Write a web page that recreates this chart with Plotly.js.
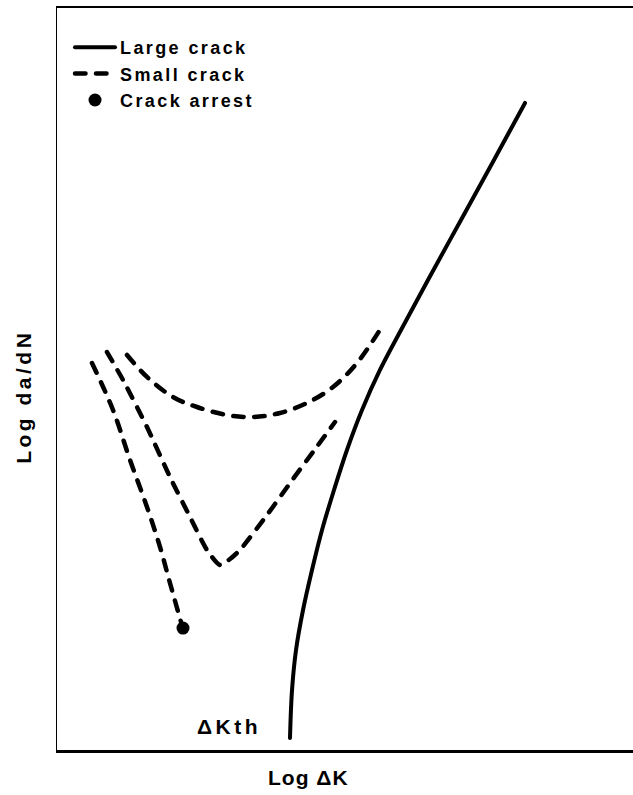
<!DOCTYPE html>
<html>
<head>
<meta charset="utf-8">
<script src="https://cdn.plot.ly/plotly-3.0.1.min.js"></script>
<style>
  html, body { margin: 0; padding: 0; background: #fff; }
  #chart { width: 633px; height: 795px; }
  .scatterlayer .js-line, .legend .js-line { stroke-linecap: round; stroke-linejoin: round; }
  .legendtext { letter-spacing: 2.4px; }
  g.annotation[data-index="0"] text { letter-spacing: 3.5px; }
  g.annotation[data-index="1"] text { letter-spacing: 1px; }
  g.annotation[data-index="2"] text { letter-spacing: 3.5px; }
</style>
</head>
<body>
<div id="chart"></div>
<script>
// Values (arbitrary log units)
const largeCrackLogK    = [40.76, 41.11, 41.80, 43.01, 44.56, 46.29, 48.36, 50.60, 53.20, 56.30, 59.93, 64.59, 70.29, 75.99, 81.35];
const largeCrackLogDadN = [1.36, 7.88, 13.32, 18.75, 24.18, 29.62, 35.05, 40.49, 45.92, 51.36, 56.79, 63.59, 71.74, 79.89, 87.64];

const smallCrackA_LogK    = [6.56, 10.19, 13.13, 16.06, 18.31, 20.03, 21.93];
const smallCrackA_LogDadN = [52.31, 45.92, 39.13, 32.74, 27.31, 22.42, 17.12];

const smallCrackB_LogK    = [9.15, 11.92, 16.06, 20.03, 23.49, 26.42, 28.67, 30.40, 32.12, 36.79, 41.28, 44.73, 48.53];
const smallCrackB_LogDadN = [53.80, 50.00, 43.61, 36.82, 31.39, 26.90, 24.86, 25.68, 26.90, 31.66, 36.55, 40.22, 44.29];

const smallCrackC_LogK    = [12.61, 16.06, 20.55, 24.70, 29.88, 34.37, 39.03, 43.70, 48.19, 52.33, 56.82];
const smallCrackC_LogDadN = [53.40, 50.41, 47.69, 46.33, 45.24, 44.97, 45.52, 46.88, 49.05, 52.31, 57.47];

const arrestLogK    = [22.28];
const arrestLogDadN = [16.30];

const seriesNames = ["Large crack", "Small crack", "Crack arrest"];
const thresholdLabel = "ΔKth";
const xTitle = "Log ΔK";
const yTitle = "Log da/dN";

const dashStyle = "10.5px,10.5px";
const font = "Liberation Sans, Arial, sans-serif";

const traces = [
  { x: largeCrackLogK, y: largeCrackLogDadN, name: seriesNames[0], mode: "lines",
    line: { color: "#000", width: 4, shape: "spline", smoothing: 1 },
    legendgroup: "large", showlegend: true },
  { x: smallCrackA_LogK, y: smallCrackA_LogDadN, name: seriesNames[1], mode: "lines",
    line: { color: "#000", width: 4.5, dash: dashStyle, shape: "spline", smoothing: 1 },
    legendgroup: "small", showlegend: true },
  { x: smallCrackB_LogK, y: smallCrackB_LogDadN, name: seriesNames[1], mode: "lines",
    line: { color: "#000", width: 4.5, dash: dashStyle, shape: "spline", smoothing: 0.6 },
    legendgroup: "small", showlegend: false },
  { x: smallCrackC_LogK, y: smallCrackC_LogDadN, name: seriesNames[1], mode: "lines",
    line: { color: "#000", width: 4.5, dash: dashStyle, shape: "spline", smoothing: 1 },
    legendgroup: "small", showlegend: false },
  { x: arrestLogK, y: arrestLogDadN, name: seriesNames[2], mode: "markers",
    marker: { color: "#000", size: 13 },
    legendgroup: "arrest", showlegend: true }
];

const layout = {
  width: 633, height: 795,
  margin: { l: 57, r: 0, t: 8, b: 45 },
  paper_bgcolor: "#fff", plot_bgcolor: "#fff",
  showlegend: true,
  legend: {
    x: 0.0226, y: 0.9717, xanchor: "left", yanchor: "top",
    bgcolor: "rgba(0,0,0,0)", borderwidth: 0,
    font: { family: font, size: 18, color: "#000", weight: "bold" },
    tracegroupgap: 0, itemwidth: 40
  },
  xaxis: {
    range: [0.518, 100], showline: true, mirror: true, linecolor: "#000", linewidth: 2.5,
    showgrid: false, zeroline: false, showticklabels: false, ticks: ""
  },
  yaxis: {
    range: [-0.272, 100.54], showline: true, mirror: false, linecolor: "#000", linewidth: 1.5,
    showgrid: false, zeroline: false, showticklabels: false, ticks: ""
  },
  annotations: [
    { text: thresholdLabel, xref: "paper", yref: "paper", x: 0.2986, y: 0.031,
      xanchor: "center", yanchor: "middle",
      showarrow: false, font: { family: font, size: 21, color: "#000", weight: "bold" } },
    { text: xTitle, xref: "paper", yref: "paper", x: 0.4358, y: -0.0364,
      xanchor: "center", yanchor: "middle",
      showarrow: false, font: { family: font, size: 21, color: "#000", weight: "bold" } },
    { text: yTitle, xref: "paper", yref: "paper", x: -0.059, y: 0.4757, textangle: -90,
      xanchor: "center", yanchor: "middle",
      showarrow: false, font: { family: font, size: 21, color: "#000", weight: "bold" } }
  ]
};

Plotly.newPlot("chart", traces, layout, { displayModeBar: false, staticPlot: true });
</script>
</body>
</html>
